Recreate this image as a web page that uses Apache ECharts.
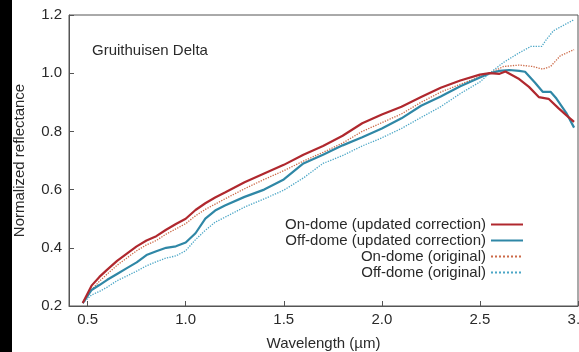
<!DOCTYPE html>
<html>
<head>
<meta charset="utf-8">
<script src="https://cdn.jsdelivr.net/npm/echarts@6/dist/echarts.min.js"></script>
<style>
  html, body { margin: 0; padding: 0; background: #fff; }
  #chart { width: 579px; height: 352px; }
</style>
</head>
<body>
<div id="chart"></div>
<script>
// wavelength (um) / normalized reflectance
var onDomeUpdated = [
  [0.475, 0.21], [0.52, 0.27], [0.56, 0.30], [0.6, 0.325], [0.65, 0.355], [0.7, 0.38],
  [0.75, 0.405], [0.8, 0.425], [0.85, 0.44], [0.9, 0.462], [0.95, 0.482], [1.0, 0.50],
  [1.05, 0.53], [1.1, 0.553], [1.15, 0.573], [1.2, 0.59], [1.3, 0.625], [1.4, 0.655],
  [1.5, 0.685], [1.6, 0.72], [1.7, 0.75], [1.8, 0.785], [1.9, 0.828], [2.0, 0.858],
  [2.1, 0.885], [2.2, 0.918], [2.3, 0.95], [2.4, 0.975], [2.5, 0.995], [2.55, 1.0],
  [2.6, 0.998], [2.63, 1.006], [2.7, 0.98], [2.75, 0.953], [2.8, 0.918], [2.85, 0.912],
  [2.9, 0.88], [2.95, 0.85], [2.98, 0.833]
];
var offDomeUpdated = [
  [0.475, 0.21], [0.52, 0.255], [0.56, 0.272], [0.6, 0.29], [0.65, 0.31], [0.7, 0.33],
  [0.75, 0.35], [0.8, 0.375], [0.85, 0.388], [0.9, 0.40], [0.95, 0.405], [1.0, 0.418],
  [1.05, 0.45], [1.1, 0.50], [1.15, 0.528], [1.2, 0.545], [1.3, 0.575], [1.4, 0.60],
  [1.5, 0.635], [1.6, 0.69], [1.7, 0.72], [1.8, 0.752], [1.9, 0.78], [2.0, 0.81],
  [2.1, 0.845], [2.2, 0.888], [2.3, 0.92], [2.4, 0.955], [2.5, 0.985], [2.55, 1.0],
  [2.6, 1.008], [2.65, 1.011], [2.7, 1.008], [2.73, 1.005], [2.78, 0.968], [2.82, 0.936],
  [2.86, 0.936], [2.89, 0.913], [2.94, 0.864], [2.98, 0.813]
];
var onDomeOriginal = [
  [0.475, 0.21], [0.52, 0.255], [0.56, 0.285], [0.6, 0.31], [0.65, 0.34], [0.7, 0.365],
  [0.75, 0.39], [0.8, 0.41], [0.85, 0.425], [0.9, 0.447], [0.95, 0.465], [1.0, 0.483],
  [1.05, 0.51], [1.1, 0.532], [1.15, 0.55], [1.2, 0.568], [1.3, 0.603], [1.4, 0.635],
  [1.5, 0.665], [1.6, 0.698], [1.7, 0.728], [1.8, 0.76], [1.9, 0.80], [2.0, 0.83],
  [2.1, 0.86], [2.2, 0.90], [2.3, 0.935], [2.4, 0.962], [2.5, 0.988], [2.55, 1.0],
  [2.62, 1.023], [2.7, 1.028], [2.77, 1.023], [2.82, 1.014], [2.86, 1.023], [2.91, 1.06],
  [2.98, 1.081]
];
var offDomeOriginal = [
  [0.475, 0.21], [0.52, 0.238], [0.56, 0.25], [0.6, 0.265], [0.65, 0.287], [0.7, 0.303],
  [0.75, 0.32], [0.8, 0.338], [0.85, 0.352], [0.9, 0.365], [0.95, 0.372], [1.0, 0.39],
  [1.05, 0.428], [1.1, 0.46], [1.15, 0.488], [1.2, 0.505], [1.3, 0.54], [1.4, 0.568],
  [1.5, 0.598], [1.6, 0.64], [1.7, 0.69], [1.8, 0.717], [1.9, 0.75], [2.0, 0.778],
  [2.1, 0.81], [2.2, 0.848], [2.3, 0.885], [2.4, 0.93], [2.5, 0.97], [2.55, 1.0],
  [2.62, 1.037], [2.7, 1.07], [2.76, 1.092], [2.815, 1.092], [2.84, 1.117], [2.875, 1.146],
  [2.93, 1.166], [2.98, 1.184]
];
var xTicks = [0.5, 1.0, 1.5, 2.0, 2.5, 3.0];
var seriesNames = [
  'On-dome (updated correction)',
  'Off-dome (updated correction)',
  'On-dome (original)',
  'Off-dome (original)'
];

var font = 'Liberation Sans, Arial, sans-serif';
var axisColor = '#555';
var textColor = '#2a2a2a';

function legendRow(name, top) {
  return {
    data: [name],
    top: top,
    right: 55,
    align: 'right',
    padding: 0,
    itemWidth: 32,
    itemHeight: 10,
    itemStyle: { opacity: 0 },
    textStyle: { fontFamily: font, fontSize: 15, color: textColor },
    selectedMode: false
  };
}

function lineSeries(name, data, color, width, dotted) {
  return {
    name: name,
    type: 'line',
    data: data,
    symbol: 'none',
    smooth: false,
    lineStyle: { color: color, width: width, type: dotted ? 'dotted' : 'solid' },
    itemStyle: { color: color },
    animation: false
  };
}

var option = {
  backgroundColor: '#fff',
  grid: {
    left: 69, top: 15, right: 1, bottom: 46,
    outerBoundsMode: 'none',
    containLabel: false,
    show: true, borderColor: axisColor, borderWidth: 1
  },
  title: {
    text: 'Gruithuisen Delta',
    left: 87, top: 38,
    textStyle: { fontFamily: font, fontSize: 15, fontWeight: 'normal', color: textColor }
  },
  // dark strip along the left edge of the scanned figure
  graphic: [{
    type: 'rect',
    shape: { x: 0, y: 0, width: 12, height: 352 },
    style: { fill: '#000' },
    silent: true
  }],
  legend: [
    legendRow(seriesNames[0], 217),
    legendRow(seriesNames[1], 233),
    legendRow(seriesNames[2], 249),
    legendRow(seriesNames[3], 265)
  ],
  xAxis: {
    type: 'value',
    min: 0.405,
    max: 3.0,
    name: 'Wavelength (\u00b5m)',
    nameLocation: 'middle',
    nameGap: 30,
    nameTextStyle: { fontFamily: font, fontSize: 15, color: textColor },
    axisLine: { lineStyle: { color: axisColor } },
    axisTick: { inside: true, length: 5, customValues: xTicks, lineStyle: { color: axisColor } },
    axisLabel: {
      customValues: xTicks, margin: 6, showMinLabel: true, showMaxLabel: true,
      fontFamily: font, fontSize: 15, color: textColor,
      formatter: function (v) { return v.toFixed(1); }
    },
    splitLine: { show: false }
  },
  yAxis: {
    type: 'value',
    min: 0.2,
    max: 1.2,
    interval: 0.2,
    name: 'Normalized reflectance',
    nameLocation: 'middle',
    nameGap: 42,
    nameTextStyle: { fontFamily: font, fontSize: 15, color: textColor },
    axisLine: { show: true, lineStyle: { color: axisColor } },
    axisTick: { show: true, inside: true, length: 5, lineStyle: { color: axisColor } },
    axisLabel: {
      margin: 7, fontFamily: font, fontSize: 15, color: textColor,
      formatter: function (v) { return v.toFixed(1); }
    },
    splitLine: { show: false }
  },
  series: [
    lineSeries(seriesNames[3], offDomeOriginal, '#4ba6c6', 1.3, true),
    lineSeries(seriesNames[2], onDomeOriginal, '#cc6a48', 1.3, true),
    lineSeries(seriesNames[1], offDomeUpdated, '#2f87a6', 2.2, false),
    lineSeries(seriesNames[0], onDomeUpdated, '#b0282e', 2.2, false)
  ]
};

var chart = echarts.init(document.getElementById('chart'));
chart.setOption(option);
</script>
</body>
</html>
